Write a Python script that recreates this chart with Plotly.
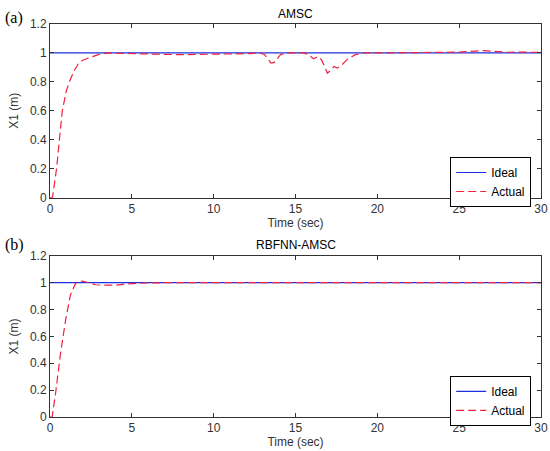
import plotly.graph_objects as go

# ideal reference (both panels)
t_ideal = [0, 30]
x_ideal = [1, 1]

# (a) AMSC response
t_amsc = [0, 0.15, 0.4, 0.75, 1.0, 1.25, 1.5, 1.75, 2.0, 2.2, 2.6, 3.0, 3.5, 4.0,
          5.0, 6.0, 7.0, 8.0, 9.0, 10.0, 11.0, 12.0, 12.8, 13.1, 13.3, 13.5, 13.7,
          13.9, 14.1, 14.5, 15.0, 15.5, 15.8, 16.1, 16.4, 16.6, 16.8, 16.95, 17.15,
          17.35, 17.55, 17.85, 18.15, 18.65, 19.2, 20, 21, 22, 23, 24, 25, 26, 26.5,
          27, 27.5, 28, 28.5, 29, 29.5, 30]
x_amsc = [0, 0, 0.2, 0.6, 0.74, 0.82, 0.88, 0.93, 0.95, 0.96, 0.975, 0.99, 1.0, 0.998,
          0.995, 0.99, 0.99, 0.988, 0.99, 0.99, 0.992, 0.995, 1.0, 0.99, 0.96, 0.93, 0.935,
          0.96, 0.99, 1.0, 1.0, 1.0, 0.988, 0.96, 0.976, 0.95, 0.90, 0.86, 0.88,
          0.907, 0.895, 0.92, 0.954, 0.988, 1.0, 1.0, 1.0, 1.0, 1.003, 1.004, 1.006, 1.01, 1.016,
          1.012, 1.008, 1.005, 1.006, 1.004, 1.006, 1.004]

# (b) RBFNN-AMSC response
t_rbf = [0, 0.13, 0.34, 0.64, 0.95, 1.25, 1.56, 1.8, 2.0, 2.4, 2.8, 3.2, 3.6, 4.0,
         4.6, 5.2, 5.8, 7, 9, 11, 13, 15, 17, 19, 21, 23, 25, 27, 29, 30]
x_rbf = [0, 0, 0.175, 0.47, 0.72, 0.91, 0.995, 1.01, 1.012, 1.0, 0.985, 0.982, 0.98, 0.982,
         0.99, 0.995, 0.998, 1.0, 1.0, 1.0, 1.0, 1.0, 1.0, 1.0, 1.0, 1.0, 1.0, 1.0, 1.0, 1.0]

x_ticks = [0, 5, 10, 15, 20, 25, 30]
y_ticks = [0, 0.2, 0.4, 0.6, 0.8, 1, 1.2]
y_labels = ["0", "0.2", "0.4", "0.6", "0.8", "1", "1.2"]

BLUE = "#1f2fe0"
RED = "#f0203f"
AXC = "#333333"

fig = go.Figure()

fig.add_trace(go.Scatter(x=t_ideal, y=x_ideal, mode="lines", name="Ideal",
                         line=dict(color=BLUE, width=1.2), xaxis="x", yaxis="y", legend="legend"))
fig.add_trace(go.Scatter(x=t_amsc, y=x_amsc, mode="lines", name="Actual",
                         line=dict(color=RED, width=1.2, dash="8px,4px"), xaxis="x", yaxis="y",
                         legend="legend"))
fig.add_trace(go.Scatter(x=t_ideal, y=x_ideal, mode="lines", name="Ideal",
                         line=dict(color=BLUE, width=1.2), xaxis="x2", yaxis="y2", legend="legend2"))
fig.add_trace(go.Scatter(x=t_rbf, y=x_rbf, mode="lines", name="Actual",
                         line=dict(color=RED, width=1.2, dash="8px,4px"), xaxis="x2", yaxis="y2",
                         legend="legend2"))

axis_common = dict(showline=True, linecolor=AXC, linewidth=1, mirror="allticks",
                   ticks="inside", ticklen=4, tickcolor=AXC, showgrid=False, zeroline=False,
                   automargin=False, tickfont=dict(size=12, color=AXC))

fig.update_layout(
    width=550, height=451,
    margin=dict(l=50, r=9, t=24, b=34),
    paper_bgcolor="white", plot_bgcolor="white",
    font=dict(family="Liberation Sans, Arial, sans-serif", size=12, color=AXC),
    xaxis=dict(domain=[0, 1], anchor="y", range=[0, 30], tickvals=x_ticks,
               title=dict(text="Time (sec)", standoff=0, font=dict(size=12)), **axis_common),
    yaxis=dict(domain=[0.558, 1], anchor="x", range=[0, 1.2], tickvals=y_ticks, ticktext=y_labels,
               title=dict(text="X1 (m)", standoff=8, font=dict(size=12)), **axis_common),
    xaxis2=dict(domain=[0, 1], anchor="y2", range=[0, 30], tickvals=x_ticks,
                title=dict(text="Time (sec)", standoff=0, font=dict(size=12)), **axis_common),
    yaxis2=dict(domain=[0, 0.41], anchor="x2", range=[0, 1.2], tickvals=y_ticks, ticktext=y_labels,
                title=dict(text="X1 (m)", standoff=8, font=dict(size=12)), **axis_common),
    legend=dict(x=0.98, y=0.6616, xanchor="right", yanchor="top", bgcolor="white",
                bordercolor="black", borderwidth=1, font=dict(size=12, color="black"),
                tracegroupgap=0, itemwidth=30),
    legend2=dict(x=0.98, y=0.1045, xanchor="right", yanchor="top", bgcolor="white",
                 bordercolor="black", borderwidth=1, font=dict(size=12, color="black"),
                 tracegroupgap=0, itemwidth=30),
    showlegend=True,
)

fig.add_annotation(text="AMSC", xref="x domain", yref="y domain", x=0.5, y=1,
                   xanchor="center", yanchor="bottom", yshift=1, showarrow=False,
                   font=dict(size=12, color="black"))
fig.add_annotation(text="RBFNN-AMSC", xref="x2 domain", yref="y2 domain", x=0.5, y=1,
                   xanchor="center", yanchor="bottom", yshift=2, showarrow=False,
                   font=dict(size=12, color="black"))
fig.add_annotation(text="(a)", xref="paper", yref="paper", x=-0.095, y=1.016,
                   xanchor="left", yanchor="middle", showarrow=False,
                   font=dict(family="Liberation Serif, Times New Roman, serif", size=16, color="black"))
fig.add_annotation(text="(b)", xref="paper", yref="paper", x=-0.095, y=0.4376,
                   xanchor="left", yanchor="middle", showarrow=False,
                   font=dict(family="Liberation Serif, Times New Roman, serif", size=16, color="black"))

# drop the default 8px page margin so the figure fills the window
fig.write_html("out.html", config={"displayModeBar": False},
               post_script="document.body.style.margin='0px';")
